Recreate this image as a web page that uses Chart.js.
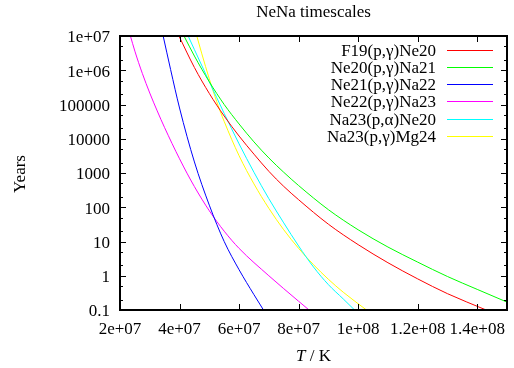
<!DOCTYPE html>
<html>
<head>
<meta charset="utf-8">
<script src="https://cdn.jsdelivr.net/npm/chart.js@4.4.0/dist/chart.umd.min.js"></script>
<style>
  html, body { margin: 0; padding: 0; background: #fff; }
  #wrap { width: 514px; height: 368px; }
</style>
</head>
<body>
<div id="wrap"><canvas id="nenaChart" width="514" height="368"></canvas></div>
<script>
// reaction names + gnuplot colours
const seriesNames = ['F19(p,γ)Ne20', 'Ne20(p,γ)Na21', 'Ne21(p,γ)Na22', 'Ne22(p,γ)Na23', 'Na23(p,α)Ne20', 'Na23(p,γ)Mg24'];
const seriesColors = ['#ff0000', '#00ff00', '#0000ff', '#ff00ff', '#00ffff', '#ffff00'];

// temperature (K) and timescale (years)
const tF19  = [3.98e7, 4.5e7, 5e7, 5.5e7, 6e7, 6.5e7, 7e7, 7.5e7, 8e7, 9e7, 1e8, 1.1e8, 1.2e8, 1.3e8, 1.43e8];
const yrF19 = [1e7, 1.2e6, 2.1e5, 4.6e4, 1.2e4, 3.55e3, 1120, 407, 166, 32, 8.1, 2.4, 0.81, 0.30, 0.1];

const tNe20  = [4.15e7, 4.5e7, 5e7, 5.5e7, 6e7, 6.5e7, 7e7, 7.5e7, 8e7, 9e7, 1e8, 1.1e8, 1.2e8, 1.3e8, 1.4e8, 1.5e8];
const yrNe20 = [1e7, 2.6e6, 4.6e5, 1e5, 2.7e4, 8.1e3, 2750, 1050, 430, 85, 22, 6.9, 2.5, 0.95, 0.40, 0.17];

const tNe21  = [3.45e7, 3.7e7, 4e7, 4.5e7, 5e7, 5.5e7, 6e7, 6.5e7, 6.82e7];
const yrNe21 = [1e7, 1.05e6, 7.9e4, 2.1e3, 115, 10, 1.5, 0.28, 0.1];

const tNe22  = [2.35e7, 2.5e7, 2.75e7, 3e7, 3.25e7, 3.5e7, 4e7, 4.5e7, 5e7, 5.5e7, 6e7, 7e7, 8e7, 8.35e7];
const yrNe22 = [1e7, 3.6e6, 8.1e5, 2.16e5, 6.5e4, 2.1e4, 2.6e3, 400, 79, 20, 6.3, 1.0, 0.18, 0.1];

const tNa23a  = [4.29e7, 4.5e7, 5e7, 5.5e7, 6e7, 6.5e7, 7e7, 7.5e7, 8e7, 8.5e7, 9e7, 9.5e7, 9.88e7];
const yrNa23a = [1e7, 4e6, 4.6e5, 5.5e4, 7.1e3, 1050, 178, 35, 7.4, 1.8, 0.55, 0.21, 0.1];

const tNa23g  = [4.58e7, 4.75e7, 5e7, 5.25e7, 5.5e7, 6e7, 6.5e7, 7e7, 7.5e7, 8e7, 8.5e7, 9e7, 9.5e7, 1.028e8];
const yrNa23g = [1e7, 3e6, 5.6e5, 1.2e5, 3.2e4, 3.2e3, 480, 93, 22, 6.3, 2.1, 0.79, 0.33, 0.1];

const seriesT  = [tF19, tNe20, tNe21, tNe22, tNa23a, tNa23g];
const seriesYr = [yrF19, yrNe20, yrNe21, yrNe22, yrNa23a, yrNa23g];

// axes
const xTicks = [2e7, 4e7, 6e7, 8e7, 1e8, 1.2e8, 1.4e8];
const xTickLabels = ['2e+07', '4e+07', '6e+07', '8e+07', '1e+08', '1.2e+08', '1.4e+08'];
const yTicks = [0.1, 1, 10, 100, 1000, 1e4, 1e5, 1e6, 1e7];
const yTickLabels = ['0.1', '1', '10', '100', '1000', '10000', '100000', '1e+06', '1e+07'];
const yMinor = [2, 5];

const FONT = "'Liberation Serif', 'Times New Roman', serif";
Chart.defaults.font.family = FONT;
Chart.defaults.font.size = 17;
Chart.defaults.color = '#000';

const datasets = seriesNames.map((name, i) => ({
  label: name,
  data: seriesT[i].map((t, j) => ({ x: t, y: seriesYr[i][j] })),
  borderColor: seriesColors[i],
  backgroundColor: seriesColors[i],
  borderWidth: 1,
  pointRadius: 0,
  fill: false,
  cubicInterpolationMode: 'monotone'
}));

// gnuplot-ish frame, inward ticks, titles and legend
const gnuplotLook = {
  id: 'gnuplotLook',
  afterDraw(chart) {
    const c = chart.ctx;
    const a = chart.chartArea;
    const xs = chart.scales.x, ys = chart.scales.y;
    c.save();
    c.strokeStyle = '#000';
    c.lineWidth = 1;
    c.beginPath();
    xTicks.forEach(v => {
      const px = Math.round(xs.getPixelForValue(v)) + 0.5;
      c.moveTo(px, a.bottom); c.lineTo(px, a.bottom - 6);
      c.moveTo(px, a.top); c.lineTo(px, a.top + 6);
    });
    yTicks.forEach(v => {
      const py = Math.round(ys.getPixelForValue(v)) + 0.5;
      c.moveTo(a.left, py); c.lineTo(a.left + 6, py);
      c.moveTo(a.right, py); c.lineTo(a.right - 6, py);
      if (v < 1e7) {
        yMinor.forEach(m => {
          const pm = Math.round(ys.getPixelForValue(v * m)) + 0.5;
          c.moveTo(a.left, pm); c.lineTo(a.left + 3, pm);
          c.moveTo(a.right, pm); c.lineTo(a.right - 3, pm);
        });
      }
    });
    c.stroke();
    c.lineWidth = 2;
    c.strokeRect(a.left, a.top, a.right - a.left, a.bottom - a.top);

    // title
    c.fillStyle = '#000';
    c.font = '17px ' + FONT;
    c.textAlign = 'center';
    c.textBaseline = 'alphabetic';
    c.fillText('NeNa timescales', (a.left + a.right) / 2, 17);

    // x axis title, italic T
    const tPart = 'T', rest = ' / K';
    c.font = 'italic 17px ' + FONT;
    const w1 = c.measureText(tPart).width;
    c.font = '17px ' + FONT;
    const w2 = c.measureText(rest).width;
    const x0 = (a.left + a.right) / 2 - (w1 + w2) / 2;
    c.textAlign = 'left';
    c.font = 'italic 17px ' + FONT;
    c.fillText(tPart, x0, 361);
    c.font = '17px ' + FONT;
    c.fillText(rest, x0 + w1, 361);

    // y axis title
    c.save();
    c.translate(25, 174);
    c.rotate(-Math.PI / 2);
    c.textAlign = 'center';
    c.fillText('Years', 0, 0);
    c.restore();

    // legend inside the plot, top right
    chart.data.datasets.forEach((ds, i) => {
      const ly = Math.round(49.5 + i * 17.33);
      c.textAlign = 'right';
      c.fillStyle = '#000';
      c.fillText(ds.label, 436, ly + 5.5);
      c.fillStyle = seriesColors[i];
      c.fillRect(447, ly, 46, 1);
    });
    c.restore();
  }
};

const ctx = document.getElementById('nenaChart').getContext('2d');
const chart = new Chart(ctx, {
  type: 'line',
  data: { datasets: datasets },
  options: {
    responsive: false,
    animation: false,
    layout: { padding: { top: 36, right: 1, left: 0, bottom: 0 } },
    plugins: { legend: { display: false }, tooltip: { enabled: false }, title: { display: false } },
    scales: {
      x: {
        type: 'linear',
        min: 2e7,
        max: 1.5e8,
        grid: { display: false, drawTicks: false },
        border: { display: false },
        ticks: {
          padding: 9,
          maxRotation: 0,
          autoSkip: false,
          callback: (v, i) => xTickLabels[i]
        },
        afterBuildTicks: s => { s.ticks = xTicks.map(v => ({ value: v })); },
        afterFit: s => { s.height = 58; }
      },
      y: {
        type: 'logarithmic',
        min: 0.1,
        max: 1e7,
        grid: { display: false, drawTicks: false },
        border: { display: false },
        ticks: {
          padding: 10,
          labelOffset: 2,
          autoSkip: false,
          callback: (v, i) => yTickLabels[i]
        },
        afterBuildTicks: s => { s.ticks = yTicks.map(v => ({ value: v })); },
        afterFit: s => { s.width = 120; }
      }
    }
  },
  plugins: [gnuplotLook]
});
</script>
</body>
</html>
